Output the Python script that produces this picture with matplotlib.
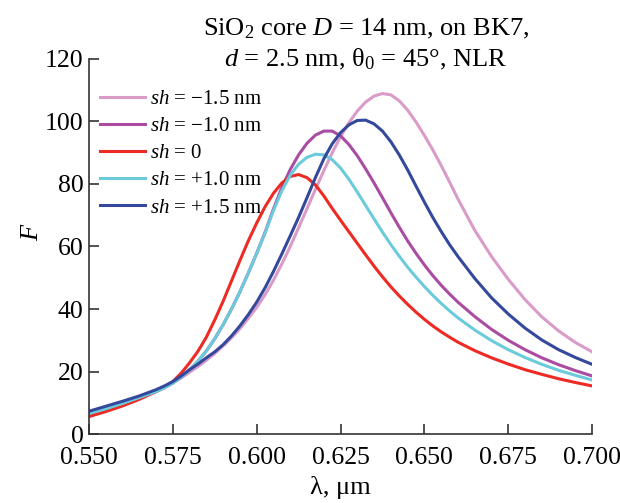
import matplotlib
matplotlib.use('Agg')
import matplotlib.pyplot as plt
from matplotlib.ticker import FormatStrFormatter

plt.rcParams['font.family'] = ['Liberation Serif', 'DejaVu Serif']
plt.rcParams['mathtext.fontset'] = 'custom'
plt.rcParams['mathtext.rm'] = 'Liberation Serif'
plt.rcParams['mathtext.it'] = 'Liberation Serif:italic'

# wavelength grid (um)
lam = [0.550, 0.555, 0.560, 0.565,
       0.5700, 0.5725, 0.5750, 0.5775, 0.5800, 0.5825, 0.5850, 0.5875,
       0.5900, 0.5925, 0.5950, 0.5975, 0.6000, 0.6025, 0.6050, 0.6075,
       0.6100, 0.6125, 0.6150, 0.6175, 0.6200, 0.6225, 0.6250, 0.6275,
       0.6300, 0.6325, 0.6350, 0.6375, 0.6400, 0.6425, 0.6450, 0.6475,
       0.6500, 0.6525, 0.6550, 0.6575, 0.6600,
       0.665, 0.670, 0.675, 0.680, 0.685, 0.690, 0.695, 0.700]

# F for each shift sh
f_m15 = [6.8, 8.5, 10.2, 12.0,
         14.0, 15.2, 16.5, 18.0, 19.8, 21.6, 23.6, 25.8,
         28.2, 30.8, 33.7, 37.0, 40.5, 44.6, 49.2, 54.4,
         60.0, 66.0, 72.1, 78.2, 84.2, 89.9, 95.1, 99.6,
         103.3, 106.2, 108.1, 108.9, 108.5, 106.6, 103.6, 99.8,
         95.5, 90.9, 85.9, 80.6, 75.2,
         65.2, 56.8, 49.5, 43.0, 37.5, 33.0, 29.3, 26.3]
f_m10 = [6.6, 8.1, 9.8, 11.7,
         13.6, 14.8, 16.3, 18.2, 20.5, 23.3, 26.6, 30.5,
         35.0, 40.0, 45.5, 51.5, 57.8, 64.5, 72.0, 78.8,
         84.6, 89.3, 93.0, 95.6, 96.9, 96.9, 95.4, 92.6,
         89.0, 84.8, 80.3, 75.6, 70.8, 66.2, 61.8, 57.8,
         54.1, 50.7, 47.6, 44.8, 42.2,
         37.6, 33.5, 30.0, 27.0, 24.4, 22.2, 20.3, 18.6]
f_0 = [5.6, 7.2, 9.0, 11.1,
       13.6, 15.0, 16.8, 19.5, 22.8, 26.5, 31.0, 36.5,
       42.5, 49.0, 55.5, 61.8, 67.5, 72.7, 77.0, 80.3,
       82.4, 83.0, 82.0, 79.7, 76.2, 72.2, 68.4, 64.7,
       61.0, 57.3, 53.7, 50.3, 47.1, 44.2, 41.5, 39.0,
       36.7, 34.6, 32.7, 31.0, 29.4,
       26.7, 24.4, 22.4, 20.6, 19.1, 17.7, 16.5, 15.4]
f_p10 = [6.6, 8.1, 9.8, 11.7,
         13.6, 14.8, 16.3, 18.2, 20.5, 23.3, 26.6, 30.5,
         35.0, 40.0, 45.5, 51.5, 57.8, 64.3, 71.5, 77.8,
         82.8, 86.3, 88.5, 89.5, 89.3, 87.8, 85.1, 81.5,
         77.4, 73.1, 68.8, 64.6, 60.6, 56.9, 53.4, 50.2,
         47.2, 44.4, 41.8, 39.4, 37.2,
         33.3, 29.9, 27.0, 24.5, 22.3, 20.4, 18.8, 17.3]
f_p15 = [7.3, 8.9, 10.5, 12.2,
         14.2, 15.4, 16.8, 18.6, 20.6, 22.4, 24.4, 26.3,
         28.6, 31.4, 34.6, 38.2, 42.2, 46.8, 52.0, 57.6,
         63.4, 69.3, 75.6, 82.0, 88.0, 92.8, 96.4, 98.9,
         100.3, 100.4, 99.2, 96.9, 93.5, 89.3, 84.5, 79.3,
         74.2, 69.3, 64.8, 60.6, 56.8,
         49.8, 43.6, 38.4, 33.9, 30.1, 27.0, 24.5, 22.3]

labels = ['$sh$ = \u22121.5 nm', '$sh$ = \u22121.0 nm', '$sh$ = 0',
          '$sh$ = +1.0 nm', '$sh$ = +1.5 nm']
colors = ['#DA9BC8', '#AA4CA2', '#EE2A24', '#6BCBDB', '#34489C']

fig = plt.figure(figsize=(6.2, 5.03), dpi=100)
ax = fig.add_axes([0.1435, 0.137, 0.8115, 0.746])

for f, lab, c in zip([f_m15, f_m10, f_0, f_p10, f_p15], labels, colors):
    ax.plot(lam, f, color=c, lw=2.2, label=lab)

ax.set_xlim(0.55, 0.70)
ax.set_ylim(0, 120)
ax.set_xticks([0.550, 0.575, 0.600, 0.625, 0.650, 0.675, 0.700])
ax.set_yticks(range(0, 121, 20))
ax.xaxis.set_major_formatter(FormatStrFormatter('%.3f'))

for s in ['top', 'right']:
    ax.spines[s].set_visible(False)
for s in ['left', 'bottom']:
    ax.spines[s].set_color('#333333')
    ax.spines[s].set_linewidth(1.2)
ax.tick_params(direction='in', length=7, width=1.2, color='#333333',
               labelsize=18.5)
ax.tick_params(axis='x', pad=9)
ax.tick_params(axis='y', pad=4)

ax.set_xlabel('\u03bb, \u03bcm', fontsize=19)
ax.xaxis.set_label_coords(0.5, -0.112)
ax.set_ylabel('$F$', fontsize=19)
ax.yaxis.set_label_coords(-0.092, 0.54)

fig.text(0.59, 0.929, 'SiO$_2$ core $D$ = 14 nm, on BK7,', ha='center',
         va='baseline', fontsize=19)
fig.text(0.59, 0.868, '$d$ = 2.5 nm, \u03b8$_0$ = 45\u00b0, NLR', ha='center',
         va='baseline', fontsize=19)

ax.legend(loc='upper left', bbox_to_anchor=(0.022, 0.918), frameon=False,
          fontsize=15, handlelength=2.15, labelspacing=0.36,
          handletextpad=0.25, borderpad=0, borderaxespad=0)

plt.savefig('out.png', dpi=100)
plt.close()
